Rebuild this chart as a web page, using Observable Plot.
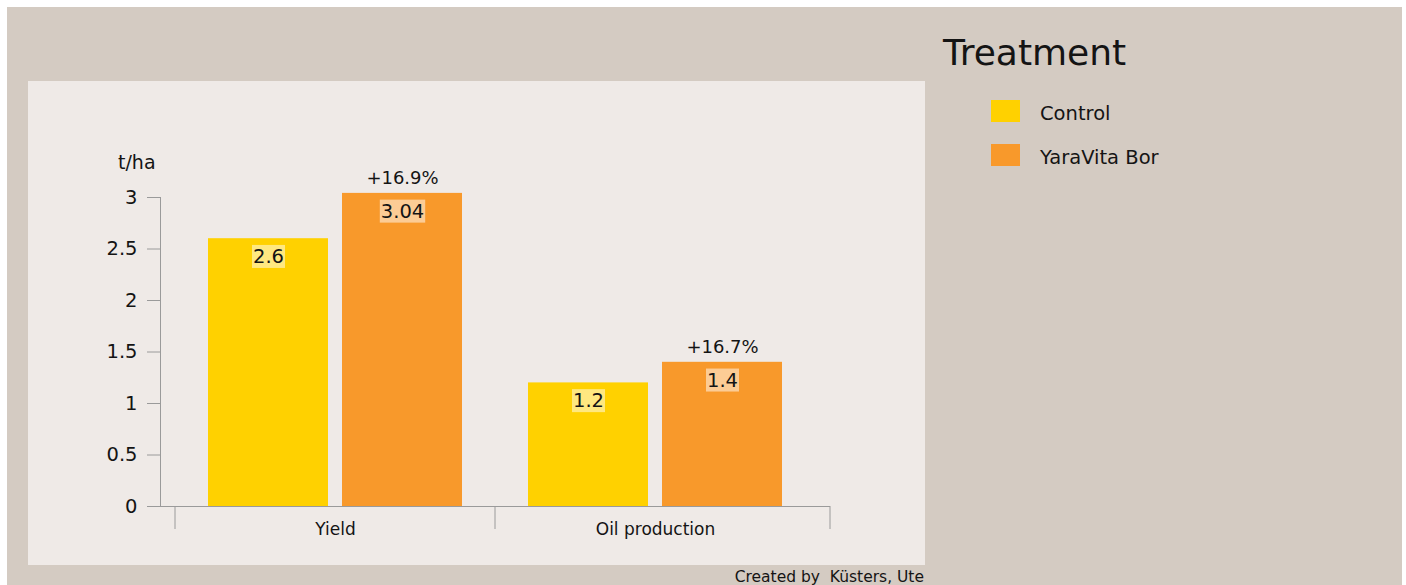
<!DOCTYPE html>
<html>
<head>
<meta charset="utf-8">
<script src="https://cdn.jsdelivr.net/npm/d3@7"></script>
<script src="https://cdn.jsdelivr.net/npm/@observablehq/plot@0.6"></script>
<style>
  html, body { margin: 0; padding: 0; background: #ffffff; width: 1406px; height: 585px; overflow: hidden; }
  body { position: relative; font-family: "DejaVu Sans", sans-serif; color: #141414; }
  .abs { position: absolute; white-space: pre; }
  #outer { left: 7px; top: 7px; width: 1395px; height: 578px; background: #d4cbc2; }
  #panel { left: 28px; top: 81px; width: 897px; height: 484px; background: #efeae7; }
  #chart { left: 28px; top: 81px; width: 897px; height: 484px; }
  #unit { left: 118px; top: 153px; font-size: 19px; line-height: 19px; }
  #legtitle { left: 943px; top: 35px; font-size: 36px; line-height: 36px; }
  .sw { width: 29px; height: 22px; }
  .lt { font-size: 19.5px; line-height: 19.5px; left: 1040px; }
  #caption { right: 482px; top: 569.5px; font-size: 15.5px; line-height: 15.5px; }
</style>
</head>
<body>
<div id="outer" class="abs"></div>
<div id="panel" class="abs"></div>
<div id="chart" class="abs"></div>
<div id="unit" class="abs">t/ha</div>
<div id="legend"></div>
<div id="caption" class="abs">Created by  Küsters, Ute</div>
<script>
const categories = ["Yield", "Oil production"];
const treatments = ["Control", "YaraVita Bor"];
const controlValues = [2.6, 1.2];
const yaraValues = [3.04, 1.4];
const increaseLabels = ["+16.9%", "+16.7%"];
const yTicks = [0, 0.5, 1, 1.5, 2, 2.5, 3];
const colors = ["#ffd100", "#f8992b"];
const legendTitle = "Treatment";

const controlRows = categories.map((c, i) => ({category: c, treatment: treatments[0], value: controlValues[i]}));
const yaraRows = categories.map((c, i) => ({category: c, treatment: treatments[1], value: yaraValues[i], pct: increaseLabels[i]}));

const plot = Plot.plot({
  width: 897,
  height: 484,
  marginLeft: 132,
  marginRight: 95,
  marginTop: 116,
  marginBottom: 59,
  style: {background: "transparent", fontFamily: "DejaVu Sans, sans-serif", fontSize: "19px", color: "#141414"},
  x: {domain: categories, paddingInner: 0, paddingOuter: 15 / 320, axis: null},
  y: {domain: [0, 3], axis: null},
  color: {domain: treatments, range: colors},
  marks: [
    Plot.barY(controlRows, {x: "category", y: "value", fill: "treatment", insetLeft: 33, insetRight: 167}),
    Plot.barY(yaraRows, {x: "category", y: "value", fill: "treatment", insetLeft: 167, insetRight: 33}),
    Plot.ruleY([0], {stroke: "#9a9a9a"}),
    Plot.frame({anchor: "left", stroke: "#9a9a9a"}),
    Plot.axisY({ticks: yTicks, tickFormat: d => String(d), tickSize: 13, tickPadding: 10, stroke: "#9a9a9a", fill: "#141414", label: null, fontSize: 19.5}),
    Plot.axisX({tickSize: 0, tickPadding: 16, label: null, fontSize: 17, fill: "#141414"}),
    Plot.text(controlRows, {x: "category", y: "value", text: d => String(d.value), dx: -67, dy: 18, lineAnchor: "middle", fontSize: 19.5, fill: "#141414"}),
    Plot.text(yaraRows, {x: "category", y: "value", text: d => String(d.value), dx: 67, dy: 18, lineAnchor: "middle", fontSize: 19.5, fill: "#141414"}),
    Plot.text(yaraRows, {x: "category", y: "value", text: "pct", dx: 67, dy: -15, lineAnchor: "middle", fontSize: 18, fill: "#141414"})
  ]
});

document.getElementById("chart").appendChild(plot);

// category dividers computed from the x scale
const xs = plot.scale("x");
const ys = plot.scale("y");
const y0 = ys.apply(0);
const divs = [...categories.map(c => xs.apply(c)), xs.range[1]];
const svg = d3.select(plot);
svg.append("g").selectAll("line").data(divs).join("line")
  .attr("x1", d => d).attr("x2", d => d)
  .attr("y1", y0).attr("y2", y0 + 23)
  .attr("stroke", "#9a9a9a");

// light background boxes behind value labels
const valueStrings = new Set([...controlValues, ...yaraValues].map(String));
svg.selectAll("text").filter(function() {
  return this.childElementCount === 0 && valueStrings.has(this.textContent);
}).each(function() {
  const b = this.getBBox();
  const r = document.createElementNS("http://www.w3.org/2000/svg", "rect");
  r.setAttribute("x", b.x - 1);
  r.setAttribute("y", b.y);
  r.setAttribute("width", b.width + 2);
  r.setAttribute("height", b.height);
  r.setAttribute("fill", "#ffffff");
  r.setAttribute("fill-opacity", 0.5);
  const tr = this.getAttribute("transform");
  if (tr) r.setAttribute("transform", tr);
  this.parentNode.insertBefore(r, this);
});

// legend
const legend = document.getElementById("legend");
const t = document.createElement("div");
t.className = "abs"; t.id = "legtitle"; t.textContent = legendTitle;
legend.appendChild(t);
const swTops = [100, 144];
treatments.forEach((name, i) => {
  const sw = document.createElement("div");
  sw.className = "abs sw";
  sw.style.left = "991px";
  sw.style.top = swTops[i] + "px";
  sw.style.background = colors[i];
  legend.appendChild(sw);
  const lt = document.createElement("div");
  lt.className = "abs lt";
  lt.style.top = (swTops[i] + 3.5) + "px";
  lt.textContent = name;
  legend.appendChild(lt);
});
</script>
</body>
</html>
